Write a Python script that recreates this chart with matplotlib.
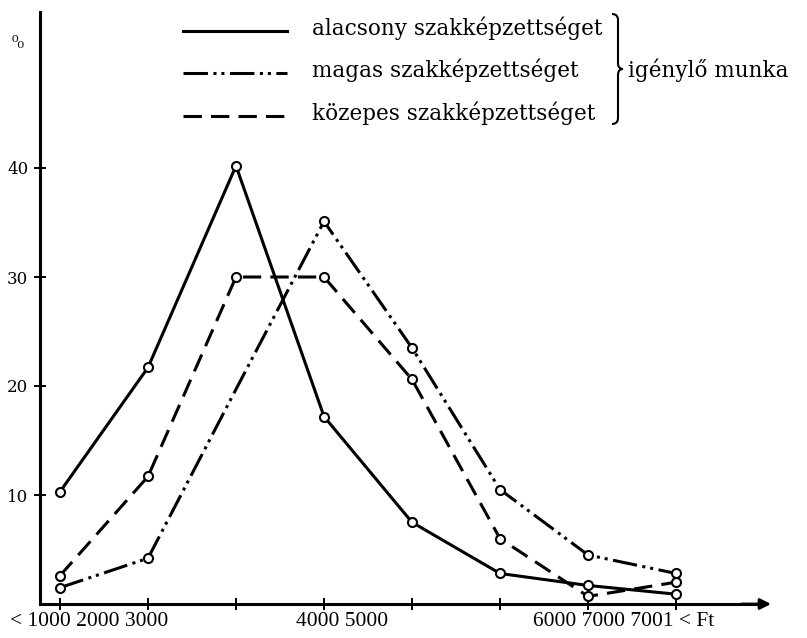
import numpy as np
import matplotlib
matplotlib.use("Agg")
import matplotlib.pyplot as plt
from matplotlib.path import Path
from matplotlib.patches import PathPatch

# income bands (index positions on the x axis)
x = np.arange(8)
# percentage of workers per income band
alacsony = [10.3, 21.7, 40.2, 17.2, 7.5, 2.8, 1.7, 0.9]
magas = [1.5, 4.2, 19.7, 35.1, 23.5, 10.5, 4.5, 2.8]
kozepes = [2.6, 11.7, 30.0, 30.0, 20.6, 6.0, 0.7, 2.0]
y_ticks = [10, 20, 30, 40]
x_label_groups = ["< 1000 2000 3000", "4000 5000", "6000 7000 7001 < Ft"]
legend_labels = ["alacsony szakképzettséget", "magas szakképzettséget",
                 "közepes szakképzettséget"]
brace_label = "igénylő munka"

W, H = 807, 638
fig = plt.figure(figsize=(W / 100, H / 100), dpi=100)
ax = fig.add_axes([0, 0, 1, 1])

# pixel layout of the scan: first band at x=60px, 88px apart; 0% at y=604px, 10.9px per %
x0, dx = 60, 88
y0, dy = 604, 10.9
ax.set_xlim(-x0 / dx, (W - x0) / dx)
ax.set_ylim(-(H - y0) / dy, y0 / dy)


def fx(px):
    return px / W


def fy(py):
    return 1 - py / H


lw = 2.2
styles = [
    dict(ls="-"),
    dict(dashes=[8, 1.8, 1, 1.6, 1, 1.8]),
    dict(dashes=[6, 3]),
]
series = [alacsony, magas, kozepes]
# the print shows no circle on the magas line at the 3rd band
marks = [list(range(8)), [0, 1, 3, 4, 5, 6, 7], list(range(8))]

for vals, st, mk in zip(series, styles, marks):
    ax.plot(x, vals, color="black", lw=lw, zorder=2, **st)
    ax.plot(x, vals, ls="none", marker="o", ms=6.5, mfc="white", mec="black",
            mew=1.5, zorder=3, markevery=mk)

# axes with arrows
xa = -20 / dx
ytop = (y0 - 12) / dy
xright = (765 - x0) / dx
for s in ["top", "right"]:
    ax.spines[s].set_visible(False)
ax.spines["left"].set_position(("data", xa))
ax.spines["bottom"].set_position(("data", 0))
ax.spines["left"].set_bounds(0, ytop)
ax.spines["bottom"].set_bounds(xa, xright)
ax.spines["left"].set_linewidth(2.2)
ax.spines["bottom"].set_linewidth(2.2)
ax.annotate("", xy=(xa, ytop + 1.2), xytext=(xa, ytop - 2),
            arrowprops=dict(arrowstyle="-|>", color="black", lw=2, mutation_scale=16))
ax.annotate("", xy=(xright + 0.1, 0), xytext=(xright - 0.3, 0),
            arrowprops=dict(arrowstyle="-|>", color="black", lw=2, mutation_scale=16))

ax.set_yticks(y_ticks)
ax.set_yticklabels([str(v) for v in y_ticks], family="DejaVu Serif", fontsize=12)
ax.set_xticks(x)
ax.set_xticklabels([])
ax.tick_params(axis="both", direction="inout", length=9, width=1.4, pad=4)

# x labels, grouped as in the print
label_px = [10, 296, 533]
for txt, px in zip(x_label_groups, label_px):
    fig.text(fx(px), fy(622), txt, family="Liberation Serif", fontsize=15.5,
             ha="left", va="center")

fig.text(fx(12), fy(44), "⁰₀", family="DejaVu Serif", fontsize=12,
         ha="left", va="center")

# legend
leg_y = [28, 70, 113]
for lab, st, py in zip(legend_labels, styles, leg_y):
    ax.plot([fx(183), fx(287)], [fy(py + 3), fy(py + 3)], color="black",
            lw=lw, transform=fig.transFigure, **st)
    fig.text(fx(312), fy(py), lab, family="DejaVu Serif", fontsize=15.5,
             ha="left", va="center")

# curly brace
bx, bt, bb, bm = 612, 14, 124, 69
verts = [(bx, bt),
         (bx + 6, bt), (bx + 6, bt + 6),
         (bx + 6, bm - 6),
         (bx + 6, bm), (bx + 11, bm),
         (bx + 6, bm), (bx + 6, bm + 6),
         (bx + 6, bb - 6),
         (bx + 6, bb), (bx, bb)]
verts = [(fx(a), fy(b)) for a, b in verts]
codes = [Path.MOVETO,
         Path.CURVE3, Path.CURVE3,
         Path.LINETO,
         Path.CURVE3, Path.CURVE3,
         Path.CURVE3, Path.CURVE3,
         Path.LINETO,
         Path.CURVE3, Path.CURVE3]
fig.patches.append(PathPatch(Path(verts, codes), fill=False, lw=1.5,
                             edgecolor="black", transform=fig.transFigure))
fig.text(fx(628), fy(70), brace_label, family="DejaVu Serif", fontsize=15.5,
         ha="left", va="center")

fig.savefig("out.png", dpi=100)
